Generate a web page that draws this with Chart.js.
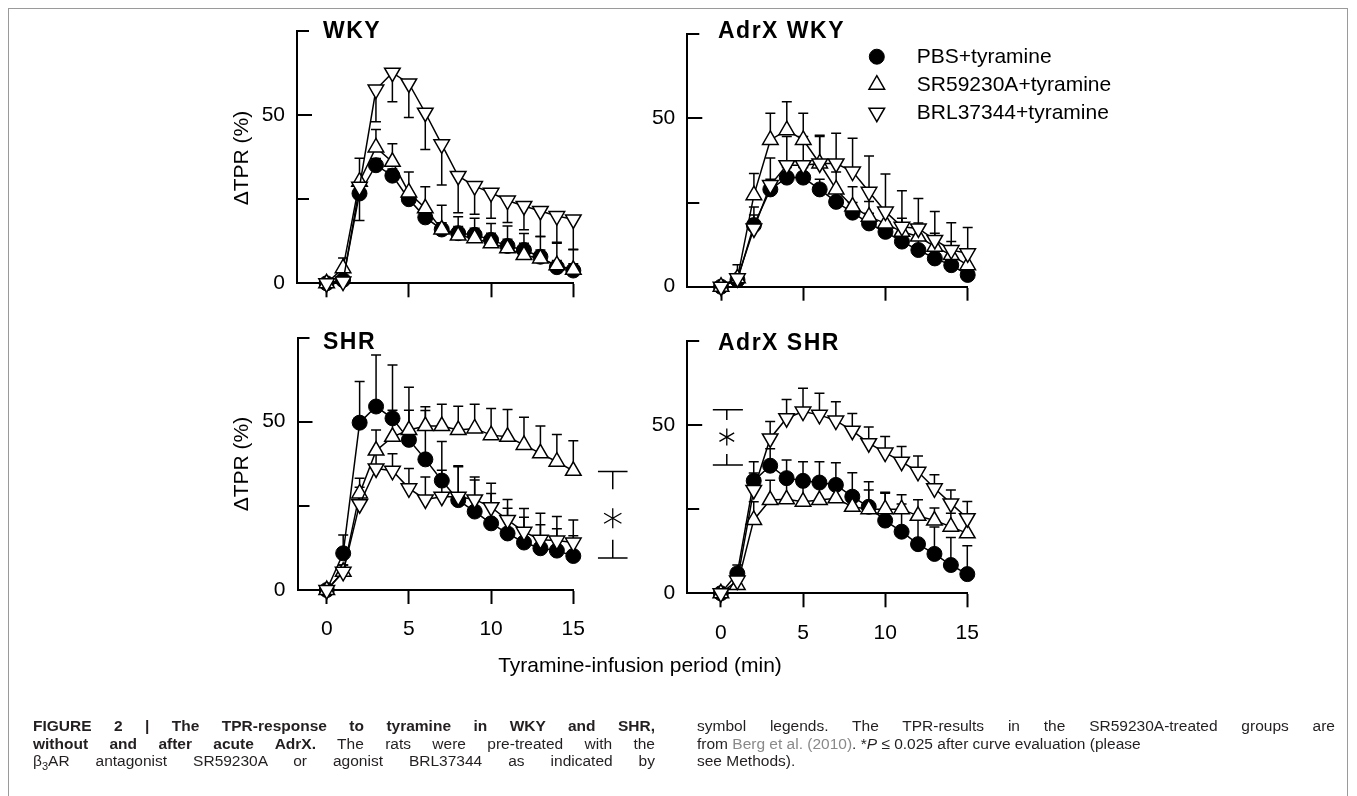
<!DOCTYPE html>
<html>
<head>
<meta charset="utf-8">
<title>TPR response to tyramine</title>
<script src="https://cdn.jsdelivr.net/npm/chart.js@4.4.1/dist/chart.umd.min.js"></script>
<style>
  html, body { margin: 0; padding: 0; background: #fff; }
  #page { position: relative; width: 1357px; height: 796px; overflow: hidden;
          font-family: "Liberation Sans", Arial, sans-serif; color: #000; }
  .layer { position: absolute; left: 0; top: 0; width: 1357px; height: 796px; }
  .frame { position: absolute; left: 8px; top: 8px; width: 1340px; height: 800px;
           border: 1px solid #9a9a9a; box-sizing: border-box; }
  .ptitle { position: absolute; font-weight: bold; font-size: 23px; line-height: 1;
            letter-spacing: 1.5px; white-space: nowrap; }
  .ytitle { position: absolute; font-size: 21px; line-height: 1; white-space: nowrap;
            transform: translate(-50%, -50%) rotate(-90deg); }
  .xtitle { position: absolute; font-size: 21px; line-height: 1; white-space: nowrap;
            transform: translate(-50%, -50%); }
  .caption { position: absolute; font-size: 15.5px; line-height: 17.5px; color: #231f20; }
  .caption div { white-space: nowrap; }
  .caption .j { text-align: justify; text-align-last: justify; white-space: normal; }
  .caption b { font-weight: bold; }
  .caption .ref { color: #8a8a8a; }
</style>
</head>
<body>
<div id="page">
  <div class="frame"></div>
  <div class="layer"><canvas id="wky"></canvas></div>
  <div class="layer"><canvas id="adrxWky"></canvas></div>
  <div class="layer"><canvas id="shr"></canvas></div>
  <div class="layer"><canvas id="adrxShr"></canvas></div>

  <div class="ptitle" style="left:323px; top:18.5px">WKY</div>
  <div class="ptitle" style="left:718px; top:18.8px">AdrX WKY</div>
  <div class="ptitle" style="left:323px; top:329.8px">SHR</div>
  <div class="ptitle" style="left:718px; top:330.5px">AdrX SHR</div>

  <div class="ytitle" style="left:239.5px; top:157.5px">ΔTPR (%)</div>
  <div class="ytitle" style="left:239.5px; top:463.5px">ΔTPR (%)</div>
  <div class="xtitle" style="left:640px; top:664px">Tyramine-infusion period (min)</div>

  <div class="caption" style="left:33px; top:717px; width:622px">
    <div class="j"><b>FIGURE 2 | The TPR-response to tyramine in WKY and SHR,</b></div>
    <div class="j"><b>without and after acute AdrX.</b> The rats were pre-treated with the</div>
    <div class="j">β<sub style="font-size:11px">3</sub>AR antagonist SR59230A or agonist BRL37344 as indicated by</div>
  </div>
  <div class="caption" style="left:697px; top:717px; width:638px">
    <div class="j">symbol legends. The TPR-results in the SR59230A-treated groups are</div>
    <div>from <span class="ref">Berg et al. (2010)</span>. *<i>P</i> ≤ 0.025 after curve evaluation (please</div>
    <div>see Methods).</div>
  </div>
</div>

<script>
// time axis (min) and labels
const minutes = [0, 1, 2, 3, 4, 5, 6, 7, 8, 9, 10, 11, 12, 13, 14, 15];
const seriesNames = ['PBS+tyramine', 'SR59230A+tyramine', 'BRL37344+tyramine'];
const yTicks = [0, 25, 50, 75];
const yTickLabels = [0, 50];
const xTicks = [0, 5, 10, 15];

// WKY  (errors: + drawn upward, - drawn downward)
const wkyPbs    = [0, 1, 26.7, 35.1, 32, 25, 19.6, 16, 14.9, 14.4, 12.9, 11.1, 9.9, 7.9, 4.8, 3.8];
const wkyPbsErr = [0, 1, -8, 2, 2, 2, 2, 2, 2, 2, 2, 2, 2, 2, 2, 2];
const wkySr     = [0, 4.5, 30.2, 40.4, 36.1, 27, 22.3, 16, 14.2, 13.4, 11.9, 10.4, 8.4, 7.4, 5.4, 4];
const wkySrErr  = [0, 3, 7, 5.3, 5.4, 6.1, 6.4, 7.2, 5.6, 5.9, 5.9, 6.6, 6.4, 6.5, 6.8, 6];
const wkyBrl    = [0, 0.5, 28.7, 57.6, 62.6, 59.4, 50.7, 41.3, 31.9, 28.9, 26.9, 24.6, 23, 21.5, 20, 19];
const wkyBrlErr = [0, 0, -3, -9.6, -8.6, -10.1, -10.9, -12.1, -10.9, -8.4, -7.6, -6.5, -7.1, -7.6, -8.1, -8.9];

// AdrX WKY
const adrxWkyPbs    = [0, 2, 18.3, 28.9, 32.4, 32.4, 28.9, 25.2, 22, 18.8, 16.3, 13.4, 10.9, 8.4, 6.4, 3.5];
const adrxWkyPbsErr = [0, 1, 5.4, 3, 3, 3, 3, 3, 3, 3, 3, 3, 3, 3, 3, 3];
const adrxWkySr     = [0, 2.5, 27.2, 43.6, 46.5, 43.6, 36.6, 28.9, 23.8, 20.8, 18.8, 16.3, 14.9, 11.9, 9.4, 6.4];
const adrxWkySrErr  = [0, 4, 6.4, 7.9, 8.4, 7.9, 8, 5.2, 5.9, 4.5, 4, 4, 4, 4, 4, 4];
const adrxWkyBrl    = [0, 2.5, 17.3, 30.2, 36.1, 36.1, 36.6, 36.6, 34.2, 28.2, 22.3, 17.8, 17.3, 13.9, 10.9, 9.9];
const adrxWkyBrlErr = [0, 1, 4, 8, 8.5, 8.5, 8.4, 9, 9.9, 10.6, 11.2, 10.7, 8.9, 8.4, 8.1, 7.7];

// SHR
const shrPbs    = [0, 10.9, 49.7, 54.5, 51, 44.6, 38.8, 32.5, 26.7, 23.3, 19.8, 16.8, 14.1, 12.4, 11.7, 10.1];
const shrPbsErr = [0, 5.4, 12.2, 15.3, 15.8, 15.6, 14.5, 11.6, 10.2, 9.4, 8.9, 7.5, 7.5, 7, 6.5, 6];
const shrSr     = [0, 5.4, 28.7, 41.4, 45.5, 47.5, 48.7, 48.7, 47.5, 48, 46, 45.5, 43.1, 40.6, 38.1, 35.4];
const shrSrErr  = [0, 2, 4.5, 6.1, 7.9, 5.9, 5.7, 6.5, 7.1, 7.2, 7.9, 8.1, 8.2, 8.1, 8.1, 8.9];
const shrBrl    = [0, 5.4, 25.5, 36.1, 35.4, 30.2, 26.9, 27.7, 27.7, 26.9, 24.6, 20.8, 17.3, 14.9, 14.7, 14.1];
const shrBrlErr = [0, 2, 5, 5, 5.1, 5.9, 6.7, 7.9, 8.9, 6.7, 7.1, 6.1, 6.9, 7.9, 7.1, 6.7];

// AdrX SHR
const adrxShrPbs    = [0, 5.9, 33.4, 37.9, 34.2, 33.4, 32.9, 32.2, 28.7, 25.7, 21.6, 18.3, 14.6, 11.7, 8.4, 5.7];
const adrxShrPbsErr = [0, 2.5, 5.7, 5, 5.4, 5.7, 6.2, 6.6, 7.1, 7.4, 8.1, 8.2, 8.1, 8, 8.2, 8.4];
const adrxShrSr     = [0, 2.5, 21.8, 27.7, 27.9, 27.2, 27.7, 28.2, 25.7, 25, 25, 25, 23, 21.6, 19.8, 17.8];
const adrxShrSrErr  = [0, 1, 5.4, 5.9, 5.7, 5.5, 5.5, 5.5, 4.5, 5.7, 5, 4.3, 4.8, 3.7, 4, 4.5];
const adrxShrBrl    = [0, 3.8, 30.7, 46, 52, 54, 53, 51.3, 48.3, 44.6, 41.8, 39.1, 36.1, 31.2, 26.7, 22.3];
const adrxShrBrlErr = [0, 1, 5, 5, 5.6, 6.9, 6.4, 5.6, 5.1, 4.8, 4.8, 4.5, 4.7, 4, 4, 5];

const FONT = '"Liberation Sans", Arial, sans-serif';
const W = 1357, H = 796;
const Y_BOX = 60, X_BOX = 60;   // room kept for the tick labels

// error bars, drawn under the markers
const errorBars = {
    id: 'errorBars',
    beforeDatasetsDraw(chart) {
        const { ctx, scales: { x, y } } = chart;
        ctx.save();
        ctx.strokeStyle = '#000';
        ctx.lineWidth = 1.5;
        chart.data.datasets.forEach(ds => {
            ds.errors.forEach((e, i) => {
                if (!e) return;
                const px = x.getPixelForValue(ds.data[i].x);
                const y0 = y.getPixelForValue(ds.data[i].y);
                const y1 = y.getPixelForValue(ds.data[i].y + e);
                ctx.beginPath();
                ctx.moveTo(px, y0);
                ctx.lineTo(px, y1);
                ctx.moveTo(px - 5, y1);
                ctx.lineTo(px + 5, y1);
                ctx.stroke();
            });
        });
        ctx.restore();
    }
};

// y ticks point into the plot in the original
const inwardTicks = {
    id: 'inwardTicks',
    beforeDatasetsDraw(chart) {
        const { ctx, chartArea, scales: { y } } = chart;
        ctx.save();
        ctx.strokeStyle = '#000';
        ctx.lineWidth = 2;
        yTicks.forEach(v => {
            const py = Math.round(y.getPixelForValue(v));
            const len = yTickLabels.includes(v) ? 15 : 12;
            ctx.beginPath();
            ctx.moveTo(chartArea.left, py);
            ctx.lineTo(chartArea.left + len, py);
            ctx.stroke();
        });
        ctx.restore();
    }
};

// significance bracket with asterisk
const sigBracket = {
    id: 'sigBracket',
    afterDatasetsDraw(chart, args, opts) {
        if (!opts || opts.x0 === undefined) return;
        const { ctx, scales: { x, y } } = chart;
        const x0 = x.getPixelForValue(opts.x0), x1 = x.getPixelForValue(opts.x1);
        const xc = x.getPixelForValue(opts.xc);
        const yt = y.getPixelForValue(opts.top), ytd = y.getPixelForValue(opts.topStem);
        const yb = y.getPixelForValue(opts.bottom), ybu = y.getPixelForValue(opts.bottomStem);
        const ys = y.getPixelForValue(opts.star);
        ctx.save();
        ctx.strokeStyle = '#000';
        ctx.lineWidth = 1.5;
        ctx.beginPath();
        ctx.moveTo(x0, yt); ctx.lineTo(x1, yt);
        ctx.moveTo(xc, yt); ctx.lineTo(xc, ytd);
        ctx.moveTo(x0, yb); ctx.lineTo(x1, yb);
        ctx.moveTo(xc, yb); ctx.lineTo(xc, ybu);
        ctx.stroke();
        ctx.lineWidth = 1.3;
        ctx.beginPath();
        [90, 30, -30].forEach(a => {
            const r = a * Math.PI / 180, s = opts.starSize;
            ctx.moveTo(xc - Math.cos(r) * s, ys - Math.sin(r) * s);
            ctx.lineTo(xc + Math.cos(r) * s, ys + Math.sin(r) * s);
        });
        ctx.stroke();
        ctx.restore();
    }
};

// symbol legend (top right panel only)
const symbolLegend = {
    id: 'symbolLegend',
    afterDraw(chart, args, opts) {
        if (!opts || !opts.show) return;
        const { ctx, chartArea } = chart;
        ctx.save();
        ctx.font = '21px ' + FONT;
        ctx.textBaseline = 'middle';
        chart.data.datasets.forEach((ds, i) => {
            const cy = chartArea.top + 22.5 + i * 28;
            const cx = chartArea.left + 189.5;
            ctx.fillStyle = ds.pointBackgroundColor;
            ctx.strokeStyle = '#000';
            ctx.lineWidth = ds.pointBorderWidth;
            Chart.helpers.drawPoint(ctx, {
                pointStyle: ds.pointStyle, radius: ds.pointRadius,
                rotation: ds.pointRotation || 0, borderWidth: ds.pointBorderWidth
            }, cx, cy);
            ctx.fillStyle = '#000';
            ctx.fillText(ds.label, cx + 40, cy + 1);
        });
        ctx.restore();
    }
};

function pts(vals) {
    return minutes.map((m, i) => ({ x: m, y: vals[i] }));
}

function makePanel(id, box, series, extra) {
    const [pbs, pbsErr, sr, srErr, brl, brlErr] = series;
    const common = { borderColor: '#000', borderWidth: 1.5, pointBorderColor: '#000', clip: false, tension: 0 };
    return new Chart(document.getElementById(id), {
        type: 'line',
        data: {
            datasets: [
                { ...common, label: seriesNames[0], data: pts(pbs), errors: pbsErr, order: 3,
                  pointStyle: 'circle', pointRadius: 7.5, pointBackgroundColor: '#000', pointBorderWidth: 1 },
                { ...common, label: seriesNames[1], data: pts(sr), errors: srErr, order: 2,
                  pointStyle: 'triangle', pointRadius: 9, pointBackgroundColor: '#fff', pointBorderWidth: 1.5 },
                { ...common, label: seriesNames[2], data: pts(brl), errors: brlErr, order: 1,
                  pointStyle: 'triangle', pointRotation: 180, pointRadius: 9, pointBackgroundColor: '#fff', pointBorderWidth: 1.5 }
            ]
        },
        options: {
            responsive: true,
            maintainAspectRatio: false,
            devicePixelRatio: 1,
            animation: false,
            events: [],
            layout: { padding: { left: box.left - Y_BOX, top: box.top, right: W - box.right, bottom: H - box.bottom - X_BOX } },
            scales: {
                x: {
                    type: 'linear', min: box.xmin, max: 15,
                    afterBuildTicks: s => { s.ticks = xTicks.map(v => ({ value: v })); },
                    afterFit: s => { s.height = X_BOX; },
                    grid: { display: true, drawOnChartArea: false, drawTicks: true, tickLength: 14, tickWidth: 2, tickColor: '#000' },
                    border: { display: true, color: '#000', width: 2 },
                    ticks: { display: box.xLabels, autoSkip: false, padding: 13, color: '#000', maxRotation: 0,
                             font: { size: 21, family: FONT } }
                },
                y: {
                    min: 0, max: 75,
                    afterBuildTicks: s => { s.ticks = yTicks.map(v => ({ value: v })); },
                    afterFit: s => { s.width = Y_BOX; },
                    grid: { display: false, drawTicks: false },
                    border: { display: true, color: '#000', width: 2 },
                    ticks: { autoSkip: false, padding: 12, color: '#000', font: { size: 21, family: FONT },
                             callback: v => yTickLabels.includes(v) ? String(v) : '' }
                }
            },
            plugins: {
                legend: { display: false },
                tooltip: { enabled: false },
                sigBracket: extra.bracket || {},
                symbolLegend: { show: !!extra.legend }
            }
        },
        plugins: [errorBars, inwardTicks, sigBracket, symbolLegend]
    });
}

makePanel('wky',
    { left: 297, right: 573.3, top: 31, bottom: 283.3, xmin: -1.8, xLabels: false },
    [wkyPbs, wkyPbsErr, wkySr, wkySrErr, wkyBrl, wkyBrlErr], {});

makePanel('adrxWky',
    { left: 687.3, right: 967.7, top: 34.2, bottom: 286.7, xmin: -2.05, xLabels: false },
    [adrxWkyPbs, adrxWkyPbsErr, adrxWkySr, adrxWkySrErr, adrxWkyBrl, adrxWkyBrlErr], { legend: true });

makePanel('shr',
    { left: 297.5, right: 573.3, top: 337.5, bottom: 590, xmin: -1.78, xLabels: true },
    [shrPbs, shrPbsErr, shrSr, shrSrErr, shrBrl, shrBrlErr],
    { bracket: { x0: 16.5, x1: 18.3, xc: 17.4, top: 35.2, topStem: 29.9, bottom: 9.5, bottomStem: 14.9, star: 21.3, starSize: 10 } });

makePanel('adrxShr',
    { left: 687.2, right: 967.3, top: 340.8, bottom: 593.3, xmin: -2.05, xLabels: true },
    [adrxShrPbs, adrxShrPbsErr, adrxShrSr, adrxShrSrErr, adrxShrBrl, adrxShrBrlErr],
    { bracket: { x0: -0.49, x1: 1.34, xc: 0.36, top: 54.5, topStem: 51.5, bottom: 38.1, bottomStem: 41.4, star: 46.4, starSize: 8.5 } });
</script>
</body>
</html>
